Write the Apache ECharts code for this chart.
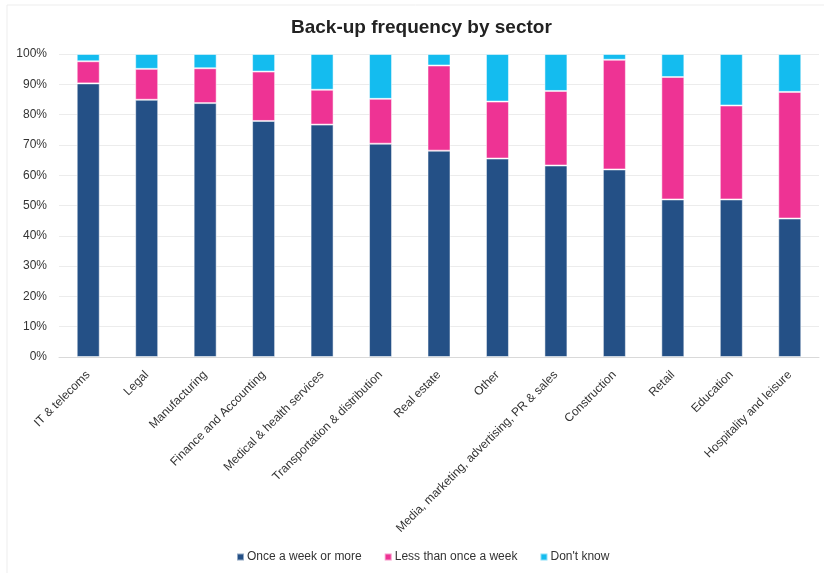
<!DOCTYPE html>
<html><head><meta charset="utf-8">
<script src="https://cdn.jsdelivr.net/npm/echarts@6/dist/echarts.min.js"></script>
<style>html,body{margin:0;padding:0;background:#fff}#c{width:824px;height:573px}</style>
</head><body><div id="c"></div>
<script>
const categories = ["IT & telecoms","Legal","Manufacturing","Finance and Accounting","Medical & health services","Transportation & distribution","Real estate","Other","Media, marketing, advertising, PR & sales","Construction","Retail","Education","Hospitality and leisure"];
const onceAWeek = [90.3,84.9,83.8,77.9,76.7,70.4,68.1,65.5,63.2,61.9,52.0,52.0,45.7];
const lessThanWeekly = [7.3,10.2,11.5,16.3,11.5,14.8,28.1,18.8,24.6,36.2,40.4,31.0,41.8];
const dontKnow = [2.4,4.9,4.7,5.8,11.8,14.8,3.8,15.7,12.2,1.9,7.6,17.0,12.5];
const seriesNames = ["Once a week or more","Less than once a week","Don't know"];
const colors = ["#245086","#ee3394","#14bcef"];
const font = "Liberation Sans, Arial, sans-serif";
const chart = echarts.init(document.getElementById('c'));
const mk = (name, data, color) => ({
  name, type:'bar', stack:'t', data, barWidth:23,
  itemStyle:{color, borderColor:'rgba(255,255,255,0.5)', borderWidth:1}
});
chart.setOption({
  animation:false,
  graphic:[
    {type:'polyline', silent:true, shape:{points:[[7,573],[7,5],[824,5]]}, style:{stroke:'#ededed', lineWidth:1, fill:null}}
  ],
  title:{text:'Back-up frequency by sector', left:286, top:13,
    textStyle:{fontFamily:font, fontSize:19, fontWeight:'bold', color:'#222'}},
  grid:{left:59, right:5, top:54, bottom:216},
  legend:{bottom:5, left:231, itemWidth:7, itemHeight:7, itemGap:22, icon:'rect',
    textStyle:{fontFamily:font, fontSize:12, color:'#333', padding:[0,0,0,-2]},
    data:seriesNames},
  xAxis:{type:'category', data:categories,
    axisLine:{lineStyle:{color:'#d9d9d9'}}, axisTick:{show:false},
    axisLabel:{rotate:45, interval:0, fontFamily:font, fontSize:12, color:'#333', margin:16}},
  yAxis:{type:'value', min:0, max:100, interval:10,
    axisLabel:{formatter:'{value}%', fontFamily:font, fontSize:12, color:'#333', margin:12},
    splitLine:{lineStyle:{color:'#ececec'}}, axisLine:{show:false}, axisTick:{show:false}},
  series:[mk(seriesNames[0], onceAWeek, colors[0]), mk(seriesNames[1], lessThanWeekly, colors[1]), mk(seriesNames[2], dontKnow, colors[2])]
});
</script></body></html>
